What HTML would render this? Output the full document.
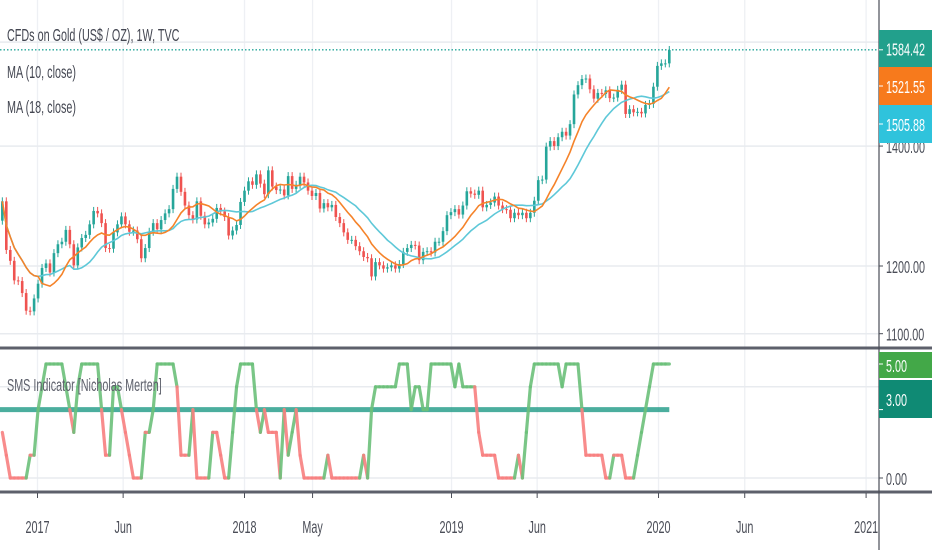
<!DOCTYPE html>
<html><head><meta charset="utf-8"><style>
html,body{margin:0;padding:0;background:#fff;}
svg{display:block;font-family:"Liberation Sans",sans-serif;}
</style></head><body>
<svg id="chart" width="932" height="550" viewBox="0 0 932 550" xmlns="http://www.w3.org/2000/svg">
<rect width="932" height="550" fill="#ffffff"/>
<g id="grid"></g>
<g id="main"></g>
<g id="ind"></g>
<g id="axes"></g>
</svg>
<script>
// ---- data ----
const closes = [1304,1225,1208,1178,1177,1159,1133,1132,1151,
1173,1197,1204,1190,1220,1234,1238,1257,1234,1201,1229,1244,1249,1266,1288,1284,1268,1228,1227,1253,1266,1279,1266,1254,1256,1242,1212,1228,1254,1268,1258,1273,1284,1291,1325,1346,1320,1297,1281,1274,1304,1280,1266,1269,1275,1293,1287,1278,1248,1256,1265,1303,
1322,1338,1332,1350,1334,1316,1357,1329,1323,1324,1314,1347,1325,1332,1346,1336,1322,1313,1318,1292,1301,1294,1298,1278,1268,1253,1241,1241,1231,1223,1214,1212,1184,1206,1201,1196,1198,1201,1196,1203,1222,1228,1233,1232,1209,1222,1223,1221,1238,1238,1255,1281,
1286,1291,1282,1297,1321,1317,1315,1322,1294,1298,1302,1312,1297,1291,1290,1276,1285,1281,1285,1276,1285,1305,1340,1341,1399,1409,1400,1416,1426,1419,1440,1496,1514,1526,1527,1506,1488,1499,1497,1504,1489,1490,1505,1515,1459,1468,1462,1463,1460,1476,1478,1511,
1552,1557,1557,1584];
const firstOpen = 1272;
const smsValues = [2,1,0,0,0,0,0,1,1,3,4,5,5,5,5,5,4,3,2,4,5,5,5,5,5,3,1,1,4,4,3,2,1,0,0,0,2,2,3,5,5,5,5,5,4,1,1,1,3,0,0,0,0,2,2,1,0,0,2,4,5,5,5,5,3,2,3,2,2,2,0,3,1,2,3,1,0,0,0,0,0,0,1,0,0,0,0,0,0,0,0,1,0,3,4,4,4,4,4,4,5,5,5,3,4,4,3,3,5,5,5,5,5,5,4,5,4,4,4,4,2,1,1,1,1,0,0,0,0,0,1,0,2,4,5,5,5,5,5,5,5,4,5,5,5,5,3,1,1,1,1,1,0,0,1,1,1,0,0,0,1,2,3,4,5,5,5,5,5];
const priceTicks = [1100,1200,1400];
const priceGrid = [1100,1200,1400,1600];
const smsTicks = [0,4];
const timeLabels = ["2017","Jun","2018","May","2019","Jun","2020","Jun","2021"];
const timeDates = ["2017-01-01","2017-06-01","2018-01-01","2018-05-01","2019-01-01","2019-06-01","2020-01-01","2020-06-01","2021-01-01"];
const lastPrice = "1584.42", ma10Label = "1521.55", ma18Label = "1505.88";

// ---- scales ----
const NS = "http://www.w3.org/2000/svg";
const PANE_R = 879;
function py(p){ return 266 - 778*Math.log(p/1200); }
function iy(v){ return 478 - 22.8*v; }
const D0 = Date.UTC(2017,0,1);
function xDate(s){ const d=(Date.parse(s+"T00:00:00Z")-D0)/86400000; return 37.5 + d*3.97/7; }
function xi(i){ return 38.07 + 3.97*(i-9); }

function el(tag, attrs, parent){ const e=document.createElementNS(NS,tag); for(const k in attrs) e.setAttribute(k,attrs[k]); parent.appendChild(e); return e; }
function label(parent, x, y, str, size, color, anchor){
  const g = el("g",{transform:`translate(${x},${y}) scale(0.6,1)`},parent);
  const t = el("text",{x:0,y:0,"font-size":size,fill:color,"text-anchor":anchor||"start"},g);
  t.textContent = str;
  return g;
}
const grid = document.getElementById("grid"), main = document.getElementById("main"), ind = document.getElementById("ind"), axes = document.getElementById("axes");

// gridlines
timeDates.forEach((d)=>{
  const x=xDate(d);
  const v=el("line",{x1:x,x2:x,y1:0,y2:492,stroke:"#eef0f4","stroke-width":1.3},grid);
  
  
});
priceGrid.forEach(p=>{
  const y=py(p);
  const h=el("line",{x1:0,x2:PANE_R,y1:y,y2:y,stroke:"#e8ebef","stroke-width":1.5},grid);
  
  
});
smsTicks.forEach(v=>{
  const y=iy(v);
  const h=el("line",{x1:0,x2:PANE_R,y1:y,y2:y,stroke:"#e8ebef","stroke-width":1.5},grid);
  
  
});

// candles
const cg = el("g",{},main);


closes.forEach((c,i)=>{
  const o = i===0 ? firstOpen : closes[i-1];
  const up = c>=o;
  const col = up ? "#26a69a" : "#ef5350";
  const x = xi(i);
  const yt = py(Math.max(o,c)), yb = py(Math.min(o,c));
  const w=el("line",{x1:x,x2:x,y1:yt-4,y2:yb+4,stroke:col,"stroke-width":1},cg);
  
  
  const b=el("rect",{x:x-1.3,y:yt,width:2.6,height:Math.max(1,yb-yt),fill:col},cg);
  
  
});

// moving averages
function sma(n){ return closes.map((c,i)=>{ const s=closes.slice(Math.max(0,i-n+1),i+1); return s.reduce((a,b)=>a+b,0)/s.length; }); }
[[18,"#5ec8d8","ma18-line"],[10,"#f5832a","ma10-line"]].forEach(([n,col,name])=>{
  const m=sma(n);
  const d=m.map((v,i)=>(i?"L":"M")+xi(i).toFixed(1)+" "+py(v).toFixed(1)).join(" ");
  const p=el("path",{d:d,fill:"none",stroke:col,"stroke-width":1.6},main);
  
  
});

// last price dotted line
const lp = el("line",{x1:0,x2:PANE_R,y1:py(1584.42),y2:py(1584.42),stroke:"#26a69a","stroke-width":1.3,"stroke-dasharray":"1.5 2"},main);



// legends
const lg1=label(main,7,41,"CFDs on Gold (US$ / OZ), 1W, TVC",18,"#434651");


const lg2=label(main,7,78,"MA (10, close)",18,"#434651");


const lg3=label(main,7,113,"MA (18, close)",18,"#434651");



// indicator
const lvl=el("line",{x1:0,x2:xi(smsValues.length-1),y1:iy(3),y2:iy(3),stroke:"#1e9a86","stroke-width":5,"stroke-opacity":0.8},ind);


for(let i=0;i<smsValues.length-1;i++){
  const a=smsValues[i], b=smsValues[i+1];
  const green = (Math.min(a,b)>=3) || (b>a);
  const s=el("line",{x1:xi(i),y1:iy(a),x2:xi(i+1),y2:iy(b),stroke:green?"#6cc07a":"#f77f7f","stroke-width":3.2,"stroke-linecap":"round","stroke-opacity":0.9},ind);
  
  
}
const it=label(ind,7,391,"SMS Indicator [Nicholas Merten]",18,"#5d606b");



// pane separators & axis borders
const sep=el("rect",{x:0,y:346.5,width:932,height:3,fill:"#5d606b"},axes);


const bot=el("rect",{x:0,y:490.5,width:932,height:3,fill:"#5d606b"},axes);


const pa=el("line",{x1:PANE_R,x2:PANE_R,y1:0,y2:550,stroke:"#4a4d57","stroke-width":1.2},axes);



// price axis labels
priceTicks.forEach(p=>{
  const y=py(p);
  if(y>343) return;
  const tk=el("line",{x1:PANE_R,x2:PANE_R+4,y1:y,y2:y,stroke:"#4a4d57"},axes);
  
  
  const t=label(axes,886,y+7,p.toFixed(2),18,"#4a4d57");
  
  
});
// small indicator labels
[[4,"4.00"],[0,"0.00"]].forEach(([v,s])=>{
  const y=iy(v);
  const tk=el("line",{x1:PANE_R,x2:PANE_R+4,y1:y,y2:y,stroke:"#4a4d57"},axes);
  
  
  const t=label(axes,886,y+7,s,18,"#4a4d57");
  
  
});
// value boxes
function box(y1,y2,fill,str,name,ty){
  const g=el("g",{},axes);
  
  
  el("rect",{x:PANE_R,y:y1,width:932-PANE_R,height:y2-y1,fill:fill},g);
  el("line",{x1:PANE_R,x2:PANE_R+4,y1:ty,y2:ty,stroke:"#ffffff"},g);
  label(g,886,(y1+y2)/2+7,str,18,"#ffffff");
}
box(30,67,"#22a08c",lastPrice,"last-price-badge",py(1584.42));
box(67,105,"#f77a1c",ma10Label,"ma10-badge",86);
box(105,143,"#2fc3dc",ma18Label,"ma18-badge",124);
box(352,378,"#43a848","5.00","sms-value-badge",iy(5));
box(380,418,"#0f8a74","3.00","threshold-badge",iy(3));

// time axis
timeLabels.forEach((s,k)=>{
  const x=xDate(timeDates[k]);
  const tk=el("line",{x1:x,x2:x,y1:493,y2:498,stroke:"#4a4d57"},axes);
  
  
  const t=label(axes,x,533,s,18,"#4a4d57","middle");
  
  
});
</script>
</body></html>
